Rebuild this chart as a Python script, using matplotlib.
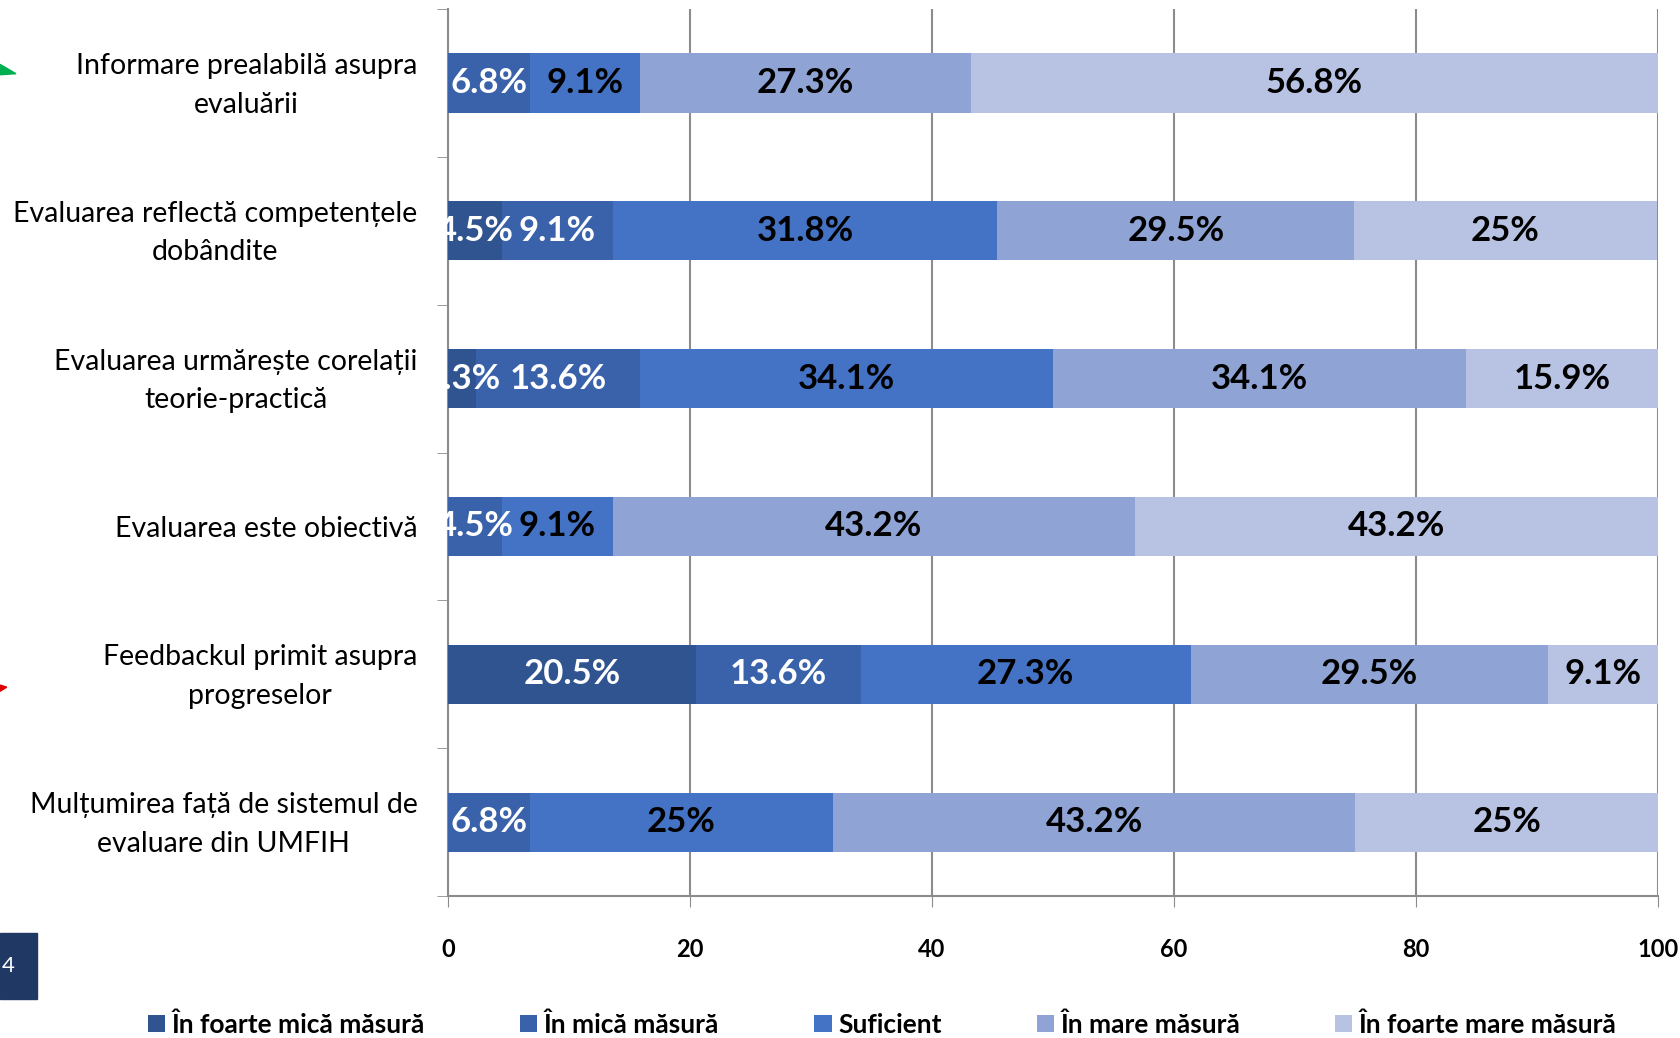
import numpy as np
import matplotlib
matplotlib.use('Agg')
import matplotlib.pyplot as plt
import matplotlib.transforms as mtransforms
from matplotlib.patches import Polygon, Rectangle

categories = [
    'Informare prealabilă asupra\nevaluării',
    'Evaluarea reflectă competențele\ndobândite',
    'Evaluarea urmărește corelații\nteorie-practică',
    'Evaluarea este obiectivă',
    'Feedbackul primit asupra\nprogreselor',
    'Mulțumirea față de sistemul de\nevaluare din UMFIH',
]

series_names = ['În foarte mică măsură', 'În mică măsură', 'Suficient',
                'În mare măsură', 'În foarte mare măsură']

foarte_mica = [0, 4.5, 2.3, 0, 20.5, 0]
mica = [6.8, 9.1, 13.6, 4.5, 13.6, 6.8]
suficient = [9.1, 31.8, 34.1, 9.1, 27.3, 25]
mare = [27.3, 29.5, 34.1, 43.2, 29.5, 43.2]
foarte_mare = [56.8, 25, 15.9, 43.2, 9.1, 25]

x_ticks = [0, 20, 40, 60, 80, 100]

colors = ['#30548F', '#3A62AA', '#4472C4', '#8FA4D5', '#B8C2E3']
label_colors = ['white', 'white', 'black', 'black', 'black']

plt.rcParams['font.family'] = ['Lato', 'DejaVu Sans']


def draw_bars(ax, values):
    y = np.arange(len(categories))
    left = np.zeros(len(categories))
    for i, vals in enumerate(values):
        vals = np.array(vals, dtype=float)
        ax.barh(y, vals, left=left, height=0.4, color=colors[i],
                label=series_names[i], zorder=3)
        for yy, l, v in zip(y, left, vals):
            if v > 0:
                ax.text(l + v / 2, yy, f'{v:g}%', ha='center', va='center',
                        fontsize=25, fontweight='bold', color=label_colors[i],
                        zorder=4)
        left += vals


def style_axes(ax, fig):
    ax.set_xlim(0, 100)
    ax.set_ylim(len(categories) - 0.5, -0.5)
    ax.set_xticks(x_ticks)
    ax.set_xticklabels([str(t) for t in x_ticks], fontsize=17,
                       fontweight='bold')
    ax.tick_params(axis='x', length=8, color='#8c8c8c', pad=22)

    ax.set_yticks(np.arange(len(categories)))
    ax.set_yticklabels(categories, fontsize=20.5, ha='right',
                       multialignment='center', linespacing=1.6)
    ax.tick_params(axis='y', length=0, pad=22)
    # two-line labels sit a bit high in the original
    shift = mtransforms.ScaledTranslation(0, 0.065, fig.dpi_scale_trans)
    for lab in ax.get_yticklabels():
        if '\n' in lab.get_text():
            lab.set_transform(lab.get_transform() + shift)
    ax.set_yticks(np.arange(-0.5, len(categories)), minor=True)
    ax.tick_params(axis='y', which='minor', length=8, color='#8c8c8c')

    ax.grid(axis='x', color='#8c8c8c', linewidth=1.5, zorder=0)
    for side in ['top', 'right']:
        ax.spines[side].set_visible(False)
    for side in ['left', 'bottom']:
        ax.spines[side].set_color('#8c8c8c')
        ax.spines[side].set_linewidth(1.5)


def draw_slide_bits(fig):
    # bits of the slide that show at the left edge
    fig.patches.append(Polygon([[0, 0.938], [0, 0.928], [0.0095, 0.929]],
                               closed=True, transform=fig.transFigure,
                               color='#00B050', zorder=5))
    fig.patches.append(Polygon([[0, 0.340], [0, 0.334], [0.004, 0.338]],
                               closed=True, transform=fig.transFigure,
                               color='#E00000', zorder=5))
    fig.patches.append(Rectangle((0, 0.038), 0.0223, 0.063,
                                 transform=fig.transFigure,
                                 color='#1F3864', zorder=5))
    fig.text(0.001, 0.069, '4', color='white', fontsize=16,
             va='center', ha='left', zorder=6)


def main():
    fig = plt.figure(figsize=(16.81, 10.38), dpi=100)
    ax = fig.add_axes([0.2665, 0.1368, 0.7198, 0.8545])

    draw_bars(ax, [foarte_mica, mica, suficient, mare, foarte_mare])
    style_axes(ax, fig)

    fig.legend(loc='center', bbox_to_anchor=(0.525, 0.013), ncol=5,
               frameon=False, handlelength=0.65, handleheight=0.65,
               handletextpad=0.25, columnspacing=3.6,
               prop={'size': 19, 'weight': 'bold'})

    draw_slide_bits(fig)
    fig.savefig('out.png', dpi=100)


if __name__ == "__main__":
    main()
